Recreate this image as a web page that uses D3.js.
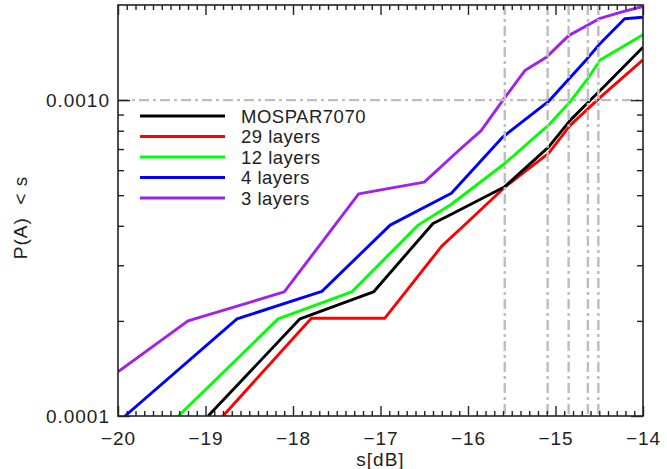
<!DOCTYPE html>
<html>
<head>
<meta charset="utf-8">
<script src="https://cdn.jsdelivr.net/npm/d3@7"></script>
<style>
  html, body { margin: 0; padding: 0; background: #fff; }
  svg { display: block; }
  text { font-family: "Liberation Sans", Arial, sans-serif; fill: #222; }
</style>
</head>
<body>
<svg id="chart" width="667" height="469"></svg>
<script>
// ---------------- DATA ----------------
const seriesNames  = ["MOSPAR7070", "29 layers", "12 layers", "4 layers", "3 layers"];
const seriesColors = ["#000000", "#ff0000", "#00ff00", "#0000ff", "#a020f0"];

const sMospar = [-18.97, -17.92, -17.08, -16.4, -16.19, -15.58, -15.08, -14.83, -14.6, -14.45, -14.0];
const pMospar = [1.0e-4, 2.03e-4, 2.47e-4, 4.07e-4, 4.35e-4, 5.32e-4, 7.1e-4, 8.64e-4, 1.0e-3, 1.1e-3, 1.47e-3];

const s29 = [-18.8, -17.79, -16.95, -16.3, -16.0, -15.58, -15.08, -14.83, -14.49, -14.0];
const p29 = [1.0e-4, 2.04e-4, 2.04e-4, 3.45e-4, 4.12e-4, 5.3e-4, 6.78e-4, 8.33e-4, 1.02e-3, 1.34e-3];

const s12 = [-19.31, -18.17, -17.33, -16.57, -16.19, -15.58, -15.08, -14.83, -14.64, -14.49, -14.0];
const p12 = [1.0e-4, 2.03e-4, 2.47e-4, 4.02e-4, 4.68e-4, 6.3e-4, 8.33e-4, 9.9e-4, 1.16e-3, 1.34e-3, 1.61e-3];

const s4 = [-19.92, -18.64, -17.67, -16.89, -16.19, -15.6, -15.08, -14.64, -14.49, -14.21, -14.0];
const p4 = [1.0e-4, 2.03e-4, 2.48e-4, 4.02e-4, 5.07e-4, 7.65e-4, 9.9e-4, 1.35e-3, 1.51e-3, 1.81e-3, 1.83e-3];

const s3 = [-20.0, -19.2, -18.1, -17.25, -16.5, -16.1, -15.85, -15.6, -15.35, -15.1, -14.85, -14.5, -14.25, -14.0];
const p3 = [1.38e-4, 2.0e-4, 2.47e-4, 5.05e-4, 5.5e-4, 6.95e-4, 8.0e-4, 1.0e-3, 1.24e-3, 1.37e-3, 1.6e-3, 1.81e-3, 1.9e-3, 1.98e-3];

const threshold = 1.0e-3;                                  // horizontal reference level
const crossings = [-15.58, -15.09, -14.85, -14.63, -14.51]; // where curves reach threshold

const xMajorTicks = [-20, -19, -18, -17, -16, -15, -14];
const yMajorTicks = [1e-4, 1e-3];
const yMinorTicks = [2e-4, 3e-4, 4e-4, 5e-4, 6e-4, 7e-4, 8e-4, 9e-4];
const xTitle = "s[dB]";
const yTitle = "P(A)  < s";

// ---------------- LAYOUT ----------------
const W = 667, H = 469;
const margin = { left: 118, right: 24, top: 5, bottom: 53 };
const svg = d3.select("#chart");

const x = d3.scaleLinear().domain([-20, -14]).range([margin.left, W - margin.right]);
const y = d3.scaleLog().domain([1e-4, 2e-3]).range([H - margin.bottom, margin.top]);

const xMinorTicks = d3.range(-200, -139).map(d => d / 10).filter(d => !xMajorTicks.includes(d));

const series = [
  { s: sMospar, p: pMospar },
  { s: s29, p: p29 },
  { s: s12, p: p12 },
  { s: s4, p: p4 },
  { s: s3, p: p3 }
].map((d, i) => ({ name: seriesNames[i], color: seriesColors[i], pts: d.s.map((v, j) => [v, d.p[j]]) }));

svg.append("defs").append("clipPath").attr("id", "clip")
  .append("rect")
  .attr("x", x.range()[0]).attr("y", y.range()[1])
  .attr("width", x.range()[1] - x.range()[0])
  .attr("height", y.range()[0] - y.range()[1]);

// curves (draw back-to-front so black is on top like reference)
const line = d3.line().x(d => x(d[0])).y(d => y(d[1]));
const plot = svg.append("g").attr("clip-path", "url(#clip)");
plot.selectAll("path.curve")
  .data(series.slice().reverse())
  .join("path")
  .attr("class", "curve")
  .attr("d", d => line(d.pts))
  .attr("fill", "none")
  .attr("stroke", d => d.color)
  .attr("stroke-width", 2.9)
  .attr("stroke-linejoin", "round");

// dash-dot reference lines
const refStyle = sel => sel.attr("stroke", "#bdbdbd").attr("stroke-width", 2.4)
  .attr("stroke-dasharray", "10,4,3,4").attr("fill", "none");
plot.append("line")
  .attr("x1", x(-20)).attr("x2", x(-14))
  .attr("y1", y(threshold)).attr("y2", y(threshold))
  .call(refStyle);
plot.selectAll("line.vref").data(crossings).join("line")
  .attr("class", "vref")
  .attr("x1", d => x(d)).attr("x2", d => x(d))
  .attr("y1", y(2e-3)).attr("y2", y(1e-4))
  .call(refStyle);

// axes
function styleAxis(g) {
  g.select(".domain").remove();
  g.selectAll(".tick line").attr("stroke", "#222").attr("stroke-width", 1.4);
  g.selectAll(".tick text").attr("font-size", 19).attr("letter-spacing", "1px")
    .attr("font-family", "Liberation Sans, Arial, sans-serif").attr("fill", "#222");
}
const bottomY = y.range()[0], topY = y.range()[1], leftX = x.range()[0], rightX = x.range()[1];

svg.append("g").attr("transform", `translate(0,${bottomY})`)
  .call(d3.axisBottom(x).tickValues(xMajorTicks).tickSize(-10).tickPadding(16).tickFormat(d3.format("d")))
  .call(styleAxis);
svg.append("g").attr("transform", `translate(0,${bottomY})`)
  .call(d3.axisBottom(x).tickValues(xMinorTicks).tickSize(-5).tickFormat(""))
  .call(styleAxis);
svg.append("g").attr("transform", `translate(0,${topY})`)
  .call(d3.axisTop(x).tickValues(xMajorTicks).tickSize(-10).tickFormat(""))
  .call(styleAxis);
svg.append("g").attr("transform", `translate(0,${topY})`)
  .call(d3.axisTop(x).tickValues(xMinorTicks).tickSize(-5).tickFormat(""))
  .call(styleAxis);

svg.append("g").attr("transform", `translate(${leftX},0)`)
  .call(d3.axisLeft(y).tickValues(yMajorTicks).tickSize(-12).tickPadding(8).tickFormat(d3.format(".4f")))
  .call(styleAxis);
svg.append("g").attr("transform", `translate(${leftX},0)`)
  .call(d3.axisLeft(y).tickValues(yMinorTicks).tickSize(-6).tickFormat(""))
  .call(styleAxis);
svg.append("g").attr("transform", `translate(${rightX},0)`)
  .call(d3.axisRight(y).tickValues(yMajorTicks).tickSize(-12).tickFormat(""))
  .call(styleAxis);
svg.append("g").attr("transform", `translate(${rightX},0)`)
  .call(d3.axisRight(y).tickValues(yMinorTicks).tickSize(-6).tickFormat(""))
  .call(styleAxis);

// frame
svg.append("rect")
  .attr("x", leftX).attr("y", topY)
  .attr("width", rightX - leftX).attr("height", bottomY - topY)
  .attr("fill", "none").attr("stroke", "#222").attr("stroke-width", 1.6);

// titles
svg.append("text")
  .attr("x", (leftX + rightX) / 2).attr("y", H - 3)
  .attr("text-anchor", "middle").attr("font-size", 19).attr("letter-spacing", "1px")
  .text(xTitle);
svg.append("text")
  .attr("transform", `translate(27,${(topY + bottomY) / 2 + 7}) rotate(-90)`)
  .attr("text-anchor", "middle").attr("font-size", 19).attr("letter-spacing", "1px")
  .style("white-space", "pre")
  .text(yTitle);

// legend
const legend = svg.append("g");
const legX0 = leftX + 22, legLen = 85, legRow0 = 116, legStep = 20.5;
series.forEach((d, i) => {
  const yy = legRow0 + i * legStep;
  legend.append("line")
    .attr("x1", legX0).attr("x2", legX0 + legLen)
    .attr("y1", yy).attr("y2", yy)
    .attr("stroke", d.color).attr("stroke-width", 2.9);
  legend.append("text")
    .attr("x", legX0 + legLen + 16).attr("y", yy)
    .attr("dy", "0.36em")
    .attr("font-size", 18.5).attr("letter-spacing", "0.5px")
    .text(d.name);
});
</script>
</body>
</html>
